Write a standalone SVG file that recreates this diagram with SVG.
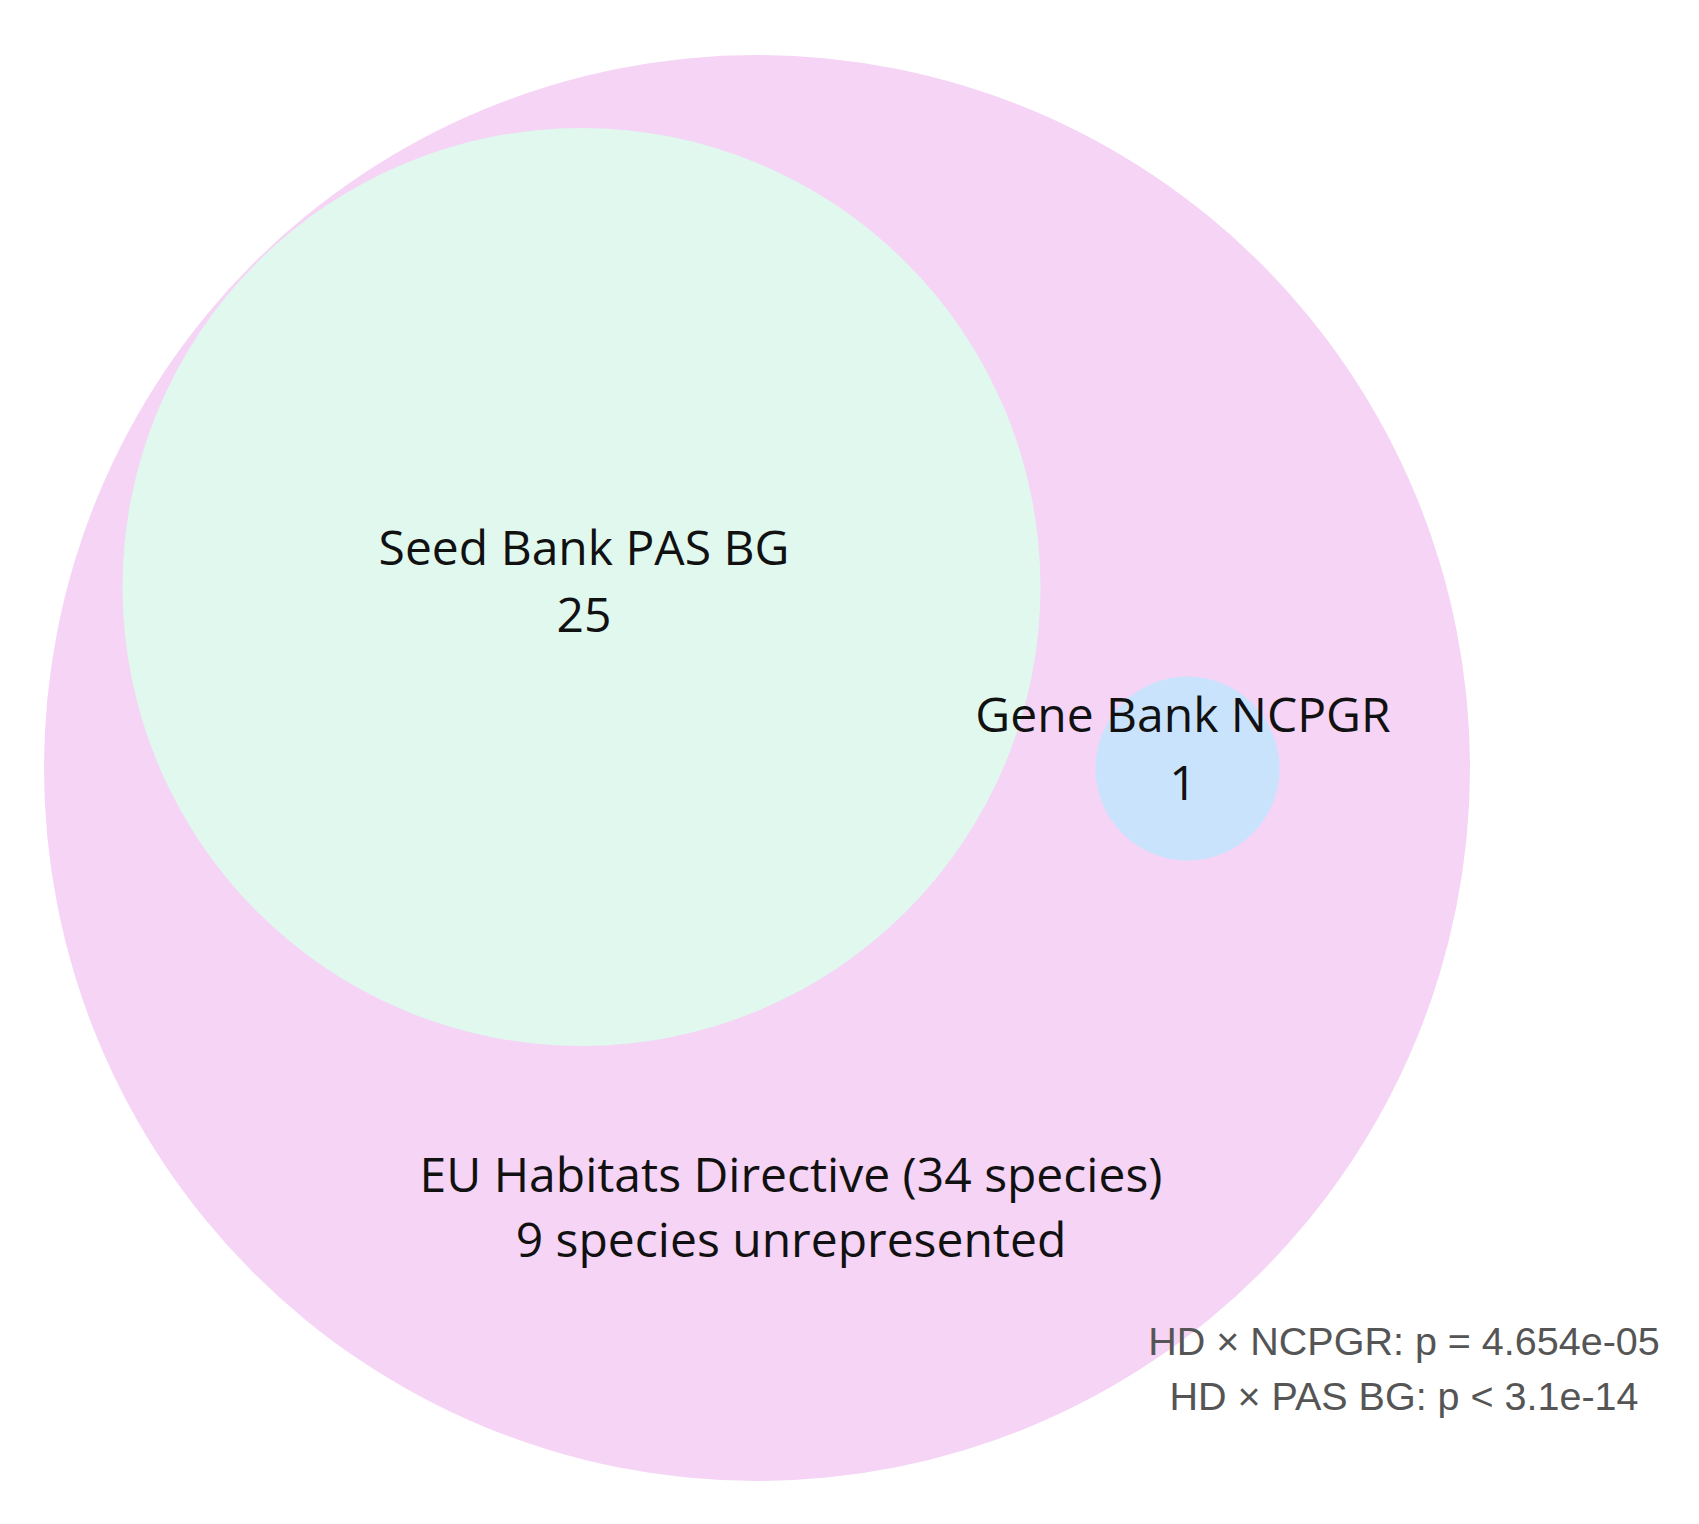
<svg xmlns="http://www.w3.org/2000/svg" width="1699" height="1524" viewBox="0 0 1699 1524">
<style>
.lbl{font-family:"Open Sans","Noto Sans",sans-serif;font-size:48px;fill:#111;text-anchor:middle}
.stat{font-family:"Liberation Sans",Arial,sans-serif;font-size:39.5px;fill:#555;text-anchor:middle}
</style>
<rect width="1699" height="1524" fill="#ffffff"/>
<g id="hd"><circle cx="757" cy="768" r="713" fill="#F5D4F5"/></g>
<g id="pasbg"><circle cx="581.5" cy="587" r="459" fill="#E0F8EE"/></g>
<g id="ncpgr"><circle cx="1187.5" cy="768.5" r="92" fill="#CAE3FD"/></g>
<g id="connectors"></g>
<g id="labels">
<text class="lbl" x="584" y="565">Seed Bank PAS BG</text>
<text class="lbl" x="584" y="632">25</text>
<text class="lbl" x="1183" y="732">Gene Bank NCPGR</text>
<text class="lbl" x="1183" y="800">1</text>
<text class="lbl" x="791" y="1192">EU Habitats Directive (34 species)</text>
<text class="lbl" x="791" y="1257">9 species unrepresented</text>
<text class="stat" x="1404" y="1355">HD × NCPGR: p = 4.654e-05</text>
<text class="stat" x="1404" y="1410">HD × PAS BG: p &lt; 3.1e-14</text>
</g>
</svg>
